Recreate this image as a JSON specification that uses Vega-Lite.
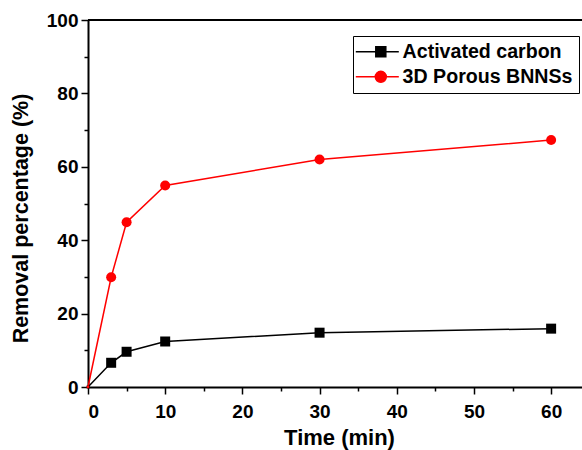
{
  "$schema": "https://vega.github.io/schema/vega-lite/v6.json",
  "autosize": {"type": "none"},
  "width": 494,
  "height": 367,
  "padding": {"left": 88, "top": 20, "right": 0, "bottom": 63},
  "background": "white",
  "config": {
    "view": {"stroke": null},
    "font": "Liberation Sans",
    "axis": {
      "grid": false,
      "domainColor": "black",
      "domainWidth": 2,
      "tickColor": "black",
      "tickWidth": 1.5,
      "labelFont": "Liberation Sans",
      "labelFontWeight": "bold",
      "labelFontSize": 19,
      "labelColor": "black",
      "titleFont": "Liberation Sans",
      "titleFontWeight": "bold",
      "titleFontSize": 21.5,
      "titleColor": "black"
    }
  },
  "data": {
    "values": [
      {"time": 0, "removal": 0, "series": "Activated carbon"},
      {"time": 3, "removal": 6.6, "series": "Activated carbon"},
      {"time": 5, "removal": 9.6, "series": "Activated carbon"},
      {"time": 10, "removal": 12.4, "series": "Activated carbon"},
      {"time": 30, "removal": 14.8, "series": "Activated carbon"},
      {"time": 60, "removal": 15.9, "series": "Activated carbon"},
      {"time": 0, "removal": 0, "series": "3D Porous BNNSs"},
      {"time": 3, "removal": 29.9, "series": "3D Porous BNNSs"},
      {"time": 5, "removal": 44.9, "series": "3D Porous BNNSs"},
      {"time": 10, "removal": 54.9, "series": "3D Porous BNNSs"},
      {"time": 30, "removal": 62.0, "series": "3D Porous BNNSs"},
      {"time": 60, "removal": 67.3, "series": "3D Porous BNNSs"}
    ]
  },
  "resolve": {"axis": {"x": "independent", "y": "independent"}},
  "layer": [
    {
      "mark": {"type": "line", "strokeWidth": 1.5},
      "encoding": {
        "x": {
          "field": "time", "type": "quantitative",
          "scale": {"domain": [0, 64], "nice": false, "zero": false},
          "axis": {"orient": "bottom", "values": [0, 10, 20, 30, 40, 50, 60], "tickSize": 7, "labelPadding": 8, "title": "Time (min)", "titleFontSize": 22, "titlePadding": 6, "titleX": 251}
        },
        "y": {
          "field": "removal", "type": "quantitative",
          "scale": {"domain": [0, 100], "nice": false},
          "axis": {"orient": "left", "values": [0, 20, 40, 60, 80, 100], "tickSize": 7, "labelPadding": 3, "title": "Removal percentage (%)", "titlePadding": 14, "titleY": 198}
        },
        "color": {
          "field": "series", "type": "nominal",
          "scale": {"domain": ["Activated carbon", "3D Porous BNNSs"], "range": ["black", "#ff0000"]},
          "legend": {
            "title": null,
            "orient": "none",
            "legendX": 265,
            "legendY": 16,
            "direction": "vertical",
            "labelFont": "Liberation Sans",
            "labelFontWeight": "bold",
            "labelFontSize": 19.6,
            "labelColor": "black",
            "labelLimit": 300,
            "labelOffset": 24,
            "strokeColor": "black",
            "fillColor": "white",
            "padding": 6,
            "rowPadding": 4,
            "symbolSize": 100,
            "encode": {
              "symbols": {
                "update": {
                  "shape": {"signal": "datum.value === 'Activated carbon' ? 'M-2.6,0H6M1.4,-1H3.4V1H1.4Z' : 'M-2.6,0H6M1.3,0A1.1,1.1,0,1,0,3.5,0A1.1,1.1,0,1,0,1.3,0Z'"},
                  "fill": {"scale": "color", "field": "value"},
                  "stroke": {"scale": "color", "field": "value"},
                  "strokeWidth": {"value": 1.5},
                  "opacity": {"value": 1}
                }
              }
            }
          }
        }
      }
    },
    {
      "transform": [{"filter": "datum.series === 'Activated carbon'"}],
      "mark": {"type": "point", "shape": "square", "filled": true, "opacity": 1, "color": "black"},
      "encoding": {
        "x": {"field": "time", "type": "quantitative", "axis": null},
        "y": {"field": "removal", "type": "quantitative", "axis": null},
        "size": {"condition": {"test": "datum.time === 0", "value": 8}, "value": 100}
      }
    },
    {
      "transform": [{"filter": "datum.series === '3D Porous BNNSs'"}],
      "mark": {"type": "point", "shape": "circle", "filled": true, "opacity": 1, "color": "#ff0000"},
      "encoding": {
        "x": {"field": "time", "type": "quantitative", "axis": null},
        "y": {"field": "removal", "type": "quantitative", "axis": null},
        "size": {"condition": {"test": "datum.time === 0", "value": 8}, "value": 100}
      }
    },
    {
      "mark": {"type": "rule", "color": "black", "strokeWidth": 2},
      "encoding": {
        "x": {
          "datum": 0, "type": "quantitative",
          "axis": {"orient": "bottom", "values": [5, 15, 25, 35, 45, 55], "tickSize": 4, "labels": false, "domain": false, "title": null}
        },
        "x2": {"datum": 64},
        "y": {
          "datum": 100, "type": "quantitative",
          "axis": {"orient": "left", "values": [10, 30, 50, 70, 90], "tickSize": 4, "labels": false, "domain": false, "title": null}
        }
      }
    }
  ]
}
